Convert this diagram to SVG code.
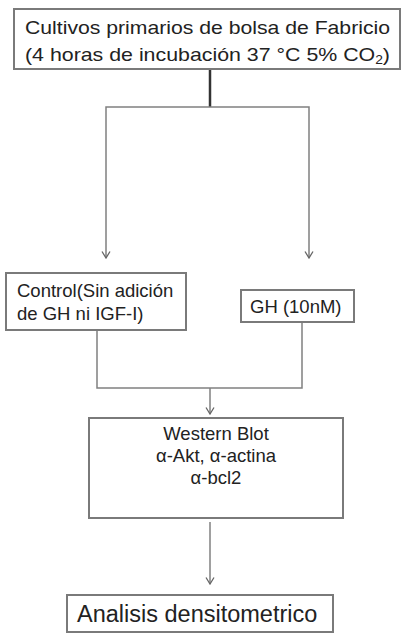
<svg xmlns="http://www.w3.org/2000/svg" width="401" height="634" viewBox="0 0 401 634">
<style>
.box{fill:#fff;stroke:#7a7a7a;stroke-width:2}
.t{font-family:"Liberation Sans",Arial,sans-serif;fill:#222;font-size:18.5px}
.ln{fill:none;stroke:#808080;stroke-width:1.5}
</style>
<defs>
<marker id="ah" viewBox="0 0 10 10" refX="9.5" refY="5" markerWidth="10" markerHeight="10" markerUnits="userSpaceOnUse" orient="auto-start-reverse">
<path d="M3,1 L9.5,5 L3,9" fill="none" stroke="#666" stroke-width="1.3"/>
</marker>
</defs>
<rect width="401" height="634" fill="#fff"/>
<g id="connectors">
<line x1="210" y1="69" x2="210" y2="107" stroke="#333" stroke-width="2.5"/>
<path class="ln" d="M106,258 V107 H309 V258" marker-start="url(#ah)" marker-end="url(#ah)"/>
<path class="ln" d="M97,330 V388 H302 V322"/>
<line class="ln" x1="210" y1="388" x2="210" y2="414" marker-end="url(#ah)"/>
<line class="ln" x1="210" y1="522" x2="210" y2="584" marker-end="url(#ah)"/>
</g>
<g id="node-cultivos">
<rect class="box" x="14" y="9" width="386" height="60"/>
<text class="t" x="25" y="34" textLength="365" lengthAdjust="spacingAndGlyphs">Cultivos primarios de bolsa de Fabricio</text>
<text class="t" x="25" y="61" textLength="365" lengthAdjust="spacingAndGlyphs">(4 horas de incubación 37 °C 5% CO<tspan font-size="12" dy="3">2</tspan><tspan dy="-3">)</tspan></text>
</g>
<g id="node-control">
<rect class="box" x="6" y="273" width="180" height="57"/>
<text class="t" x="17" y="297">Control(Sin adición</text>
<text class="t" x="17" y="320">de GH ni IGF-I)</text>
</g>
<g id="node-gh">
<rect class="box" x="241" y="290" width="113" height="32"/>
<text class="t" x="250" y="313">GH (10nM)</text>
</g>
<g id="node-western">
<rect class="box" x="89" y="418" width="254" height="100"/>
<text class="t" x="216" y="440" text-anchor="middle">Western Blot</text>
<text class="t" x="216" y="462" text-anchor="middle">α-Akt, α-actina</text>
<text class="t" x="216" y="484" text-anchor="middle">α-bcl2</text>
</g>
<g id="node-analisis">
<rect class="box" x="67" y="595" width="266" height="37"/>
<text class="t" x="77" y="622" style="font-size:23.5px">Analisis densitometrico</text>
</g>
</svg>
